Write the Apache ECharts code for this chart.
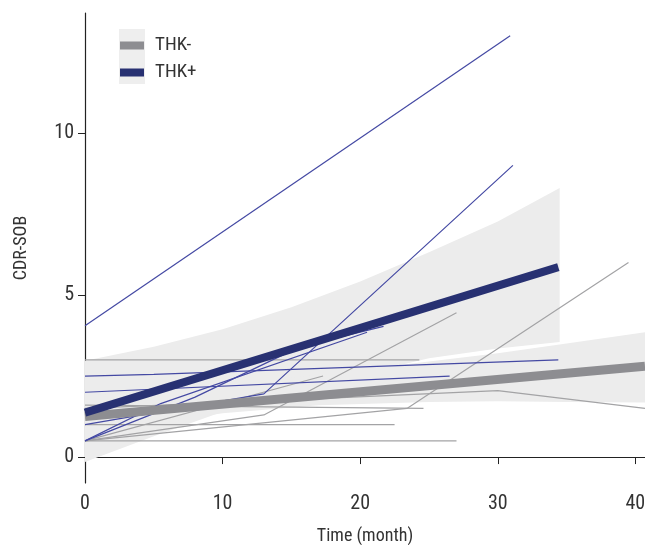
<!DOCTYPE html>
<html>
<head>
<meta charset="utf-8">
<script src="https://cdn.jsdelivr.net/npm/echarts@6/dist/echarts.min.js"></script>
<style>
  html, body { margin: 0; padding: 0; background: #fff; }
  #main { width: 645px; height: 545px; }
</style>
</head>
<body>
<div id="main"></div>
<script>
// tick labels
var xTicks = [0, 10, 20, 30, 40];
var yTicks = [0, 5, 10];

// individual subjects, THK+ (blue) and THK- (gray)
var posLines = [
  [[0, 4.05], [30.9, 13.0]],
  [[0, 1.0], [13, 1.95], [31.1, 9.0]],
  [[0, 0.5], [8, 1.85], [15.6, 3.4], [21.7, 4.03]],
  [[0, 0.5], [5.5, 1.65], [20.5, 3.85]],
  [[0, 2.5], [5, 2.55], [34.4, 3.0]],
  [[0, 2.0], [26.5, 2.5]]
];
var negLines = [
  [[0, 3.0], [24.3, 3.0]],
  [[0, 0.5], [27, 0.5]],
  [[0, 1.0], [22.5, 1.0]],
  [[0, 0.5], [23.4, 1.5], [39.5, 6.0]],
  [[0, 1.6], [24.6, 1.5]],
  [[0, 0.5], [13, 1.3], [27, 4.45]],
  [[0, 1.5], [17, 1.8], [30, 2.05], [40.7, 1.5]],
  [[0, 0.5], [17.3, 2.5]]
];

// group trends
var posTrend = [[0, 1.37], [34.4, 5.86]];
var negTrend = [[0, 1.25], [40.7, 2.8]];

// confidence bands: x, lower, upper
var posBandX = [0, 5, 10, 15, 20, 25, 30, 34.5];
var posBandLo = [-0.15, 0.64, 1.4, 2.0, 2.55, 3.05, 3.35, 3.55];
var posBandHi = [2.97, 3.4, 3.94, 4.62, 5.42, 6.32, 7.27, 8.3];
var negBandX = [0, 10, 17, 25, 30, 35, 40.7];
var negBandLo = [0.7, 1.35, 1.6, 1.7, 1.72, 1.7, 1.68];
var negBandHi = [1.9, 2.2, 2.55, 2.95, 3.2, 3.5, 3.85];

var FONT = "'Roboto Condensed', 'Liberation Sans Narrow', Roboto, sans-serif";

function band(xs, lo, hi) {
  var rows = xs.map(function (x, i) { return [x, lo[i], hi[i]]; });
  return {
    type: 'custom',
    silent: true,
    z: 1,
    clip: true,
    data: rows,
    encode: { x: 0, y: [1, 2] },
    renderItem: function (params, api) {
      if (params.dataIndex !== 0) return null;
      var pts = [];
      rows.forEach(function (r) { pts.push(api.coord([r[0], r[2]])); });
      for (var i = rows.length - 1; i >= 0; i--) pts.push(api.coord([rows[i][0], rows[i][1]]));
      return {
        type: 'polygon',
        shape: { points: pts },
        style: { fill: '#ececec' }
      };
    }
  };
}

function thin(pts, color) {
  return {
    type: 'line', name: 'sub', data: pts, showSymbol: false, silent: true, z: 2,
    lineStyle: { color: color, width: 1.2 }
  };
}

var series = [band(posBandX, posBandLo, posBandHi), band(negBandX, negBandLo, negBandHi)];
negLines.forEach(function (p) { series.push(thin(p, '#a3a3a5')); });
posLines.forEach(function (p) { series.push(thin(p, '#4449a3')); });
series.push({
  type: 'line', name: 'THK-', data: negTrend, showSymbol: false, z: 3,
  itemStyle: { color: '#8d8d91' }, lineStyle: { color: '#8d8d91', width: 9 }
});
series.push({
  type: 'line', name: 'THK+', data: posTrend, showSymbol: false, z: 4,
  itemStyle: { color: '#283172' }, lineStyle: { color: '#283172', width: 8 }
});

var myChart = echarts.init(document.getElementById('main'));
var option = {
  animation: false,
  backgroundColor: '#fff',
  textStyle: { fontFamily: FONT },
  grid: { left: 85, top: 13, width: 560, height: 470, containLabel: false, outerBoundsMode: 'none' },
  graphic: [{
    type: 'rect', left: 119, top: 29, z: 0,
    shape: { width: 26, height: 55 },
    style: { fill: '#eeeeee' }
  }],
  legend: {
    data: ['THK-', 'THK+'],
    orient: 'vertical',
    left: 115, top: 31,
    icon: 'rect',
    itemWidth: 24, itemHeight: 8, itemGap: 8,
    textStyle: { fontFamily: FONT, fontSize: 19, color: '#333', padding: [0, 0, 0, 6] }
  },
  xAxis: {
    type: 'value', min: 0, max: 40.7,
    name: 'Time (month)', nameLocation: 'middle', nameGap: 44,
    nameTextStyle: { fontFamily: FONT, fontSize: 18, color: '#333' },
    axisLine: { lineStyle: { color: '#222', width: 1.2 } },
    axisTick: { length: 7, customValues: xTicks, lineStyle: { color: '#222' } },
    axisLabel: { customValues: xTicks, fontFamily: FONT, fontSize: 20, color: '#333', margin: 11 },
    splitLine: { show: false }
  },
  yAxis: {
    type: 'value', min: -0.8, max: 13.7,
    name: 'CDR-SOB', nameLocation: 'middle', nameGap: 55, nameRotate: 90,
    nameTextStyle: { fontFamily: FONT, fontSize: 18, color: '#333' },
    axisLine: { show: true, lineStyle: { color: '#222', width: 1.2 } },
    axisTick: { show: true, length: 7, customValues: yTicks, lineStyle: { color: '#222' } },
    axisLabel: { customValues: yTicks, fontFamily: FONT, fontSize: 20, color: '#333', margin: 11 },
    splitLine: { show: false }
  },
  series: series
};
myChart.setOption(option);
</script>
</body>
</html>
